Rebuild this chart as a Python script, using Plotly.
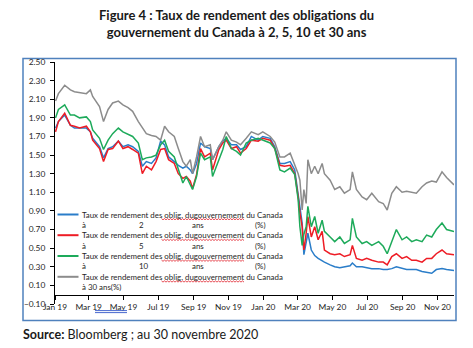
import plotly.graph_objects as go

# Government of Canada benchmark bond yields (%), Jan 2019 - Nov 2020
dates = [
    "2019-01-02", "2019-01-07", "2019-01-18", "2019-01-28", "2019-02-04", "2019-02-13", "2019-02-25", "2019-03-04", "2019-03-08", "2019-03-20",
    "2019-03-27", "2019-04-04", "2019-04-12", "2019-04-22", "2019-04-30", "2019-05-09", "2019-05-17", "2019-05-27", "2019-06-03", "2019-06-10",
    "2019-06-19", "2019-06-27", "2019-07-05", "2019-07-12", "2019-07-19", "2019-07-29", "2019-08-05", "2019-08-13", "2019-08-19", "2019-08-26",
    "2019-08-30", "2019-09-06", "2019-09-13", "2019-09-20", "2019-09-30", "2019-10-04", "2019-10-15", "2019-10-22", "2019-10-28", "2019-11-06",
    "2019-11-15", "2019-11-22", "2019-12-02", "2019-12-11", "2019-12-23", "2019-12-31", "2020-01-13", "2020-01-21", "2020-01-30", "2020-02-07",
    "2020-02-17", "2020-02-25", "2020-03-02", "2020-03-05", "2020-03-09", "2020-03-12", "2020-03-16", "2020-03-19", "2020-03-25", "2020-03-31",
    "2020-04-06", "2020-04-13", "2020-04-17", "2020-04-27", "2020-05-05", "2020-05-14", "2020-05-22", "2020-06-01", "2020-06-05", "2020-06-12",
    "2020-06-22", "2020-06-30", "2020-07-09", "2020-07-21", "2020-07-29", "2020-08-05", "2020-08-13", "2020-08-21", "2020-08-31", "2020-09-08",
    "2020-09-17", "2020-09-25", "2020-10-05", "2020-10-13", "2020-10-22", "2020-10-30", "2020-11-09", "2020-11-17", "2020-11-30",
]

yield_2y = [
    1.79, 1.86, 1.93, 1.82, 1.79, 1.79, 1.79, 1.75, 1.68, 1.59,
    1.47, 1.57, 1.59, 1.65, 1.59, 1.61, 1.59, 1.54, 1.38, 1.43,
    1.41, 1.47, 1.65, 1.61, 1.48, 1.43, 1.39, 1.36, 1.38, 1.34,
    1.30, 1.41, 1.63, 1.59, 1.57, 1.45, 1.59, 1.65, 1.68, 1.61,
    1.61, 1.56, 1.59, 1.70, 1.66, 1.70, 1.68, 1.59, 1.41, 1.41,
    1.43, 1.34, 1.09, 0.92, 0.77, 0.43, 0.57, 0.66, 0.48, 0.42,
    0.39, 0.37, 0.35, 0.32, 0.30, 0.29, 0.30, 0.31, 0.34, 0.30,
    0.30, 0.29, 0.28, 0.28, 0.27, 0.27, 0.28, 0.30, 0.28, 0.27,
    0.27, 0.27, 0.25, 0.24, 0.23, 0.27, 0.28, 0.27, 0.26,
]
yield_5y = [
    1.75, 1.86, 1.95, 1.82, 1.81, 1.79, 1.81, 1.75, 1.66, 1.57,
    1.43, 1.56, 1.57, 1.65, 1.57, 1.59, 1.56, 1.52, 1.30, 1.38,
    1.34, 1.43, 1.56, 1.57, 1.45, 1.41, 1.30, 1.25, 1.27, 1.22,
    1.14, 1.29, 1.57, 1.48, 1.52, 1.34, 1.56, 1.63, 1.66, 1.57,
    1.59, 1.52, 1.57, 1.66, 1.65, 1.68, 1.66, 1.57, 1.39, 1.38,
    1.39, 1.30, 1.05, 0.88, 0.73, 0.48, 0.66, 0.84, 0.62, 0.73,
    0.59, 0.68, 0.48, 0.44, 0.43, 0.44, 0.41, 0.43, 0.53, 0.39,
    0.37, 0.39, 0.37, 0.35, 0.35, 0.32, 0.41, 0.44, 0.39, 0.41,
    0.37, 0.37, 0.35, 0.39, 0.39, 0.44, 0.48, 0.44, 0.43,
]
yield_10y = [
    1.90, 1.99, 2.04, 1.93, 1.93, 1.90, 1.91, 1.86, 1.77, 1.68,
    1.56, 1.66, 1.73, 1.79, 1.75, 1.72, 1.70, 1.63, 1.45, 1.47,
    1.48, 1.50, 1.61, 1.66, 1.54, 1.48, 1.34, 1.20, 1.27, 1.18,
    1.13, 1.27, 1.52, 1.45, 1.48, 1.27, 1.45, 1.56, 1.70, 1.57,
    1.54, 1.50, 1.63, 1.66, 1.68, 1.66, 1.63, 1.57, 1.34, 1.32,
    1.36, 1.29, 1.02, 0.73, 0.53, 0.65, 0.73, 0.95, 0.73, 0.84,
    0.66, 0.80, 0.68, 0.62, 0.57, 0.62, 0.55, 0.59, 0.82, 0.62,
    0.55, 0.57, 0.53, 0.57, 0.52, 0.44, 0.57, 0.70, 0.59, 0.62,
    0.57, 0.59, 0.57, 0.64, 0.62, 0.70, 0.77, 0.70, 0.68,
]
yield_30y = [
    2.08, 2.16, 2.25, 2.20, 2.18, 2.17, 2.16, 2.20, 2.13, 2.02,
    1.86, 1.99, 2.06, 2.08, 2.04, 2.01, 1.97, 1.86, 1.80, 1.73,
    1.71, 1.70, 1.66, 1.81, 1.75, 1.70, 1.57, 1.43, 1.38, 1.45,
    1.30, 1.48, 1.70, 1.59, 1.61, 1.45, 1.59, 1.66, 1.75, 1.66,
    1.64, 1.61, 1.68, 1.75, 1.72, 1.75, 1.70, 1.64, 1.48, 1.48,
    1.52, 1.40, 1.30, 1.23, 0.91, 1.13, 0.98, 1.45, 1.30, 1.38,
    1.30, 1.41, 1.30, 1.23, 1.13, 1.16, 1.09, 1.13, 1.32, 1.13,
    1.05, 1.02, 1.09, 1.00, 0.98, 0.91, 1.09, 1.16, 1.10, 1.11,
    1.10, 1.09, 1.16, 1.20, 1.22, 1.21, 1.32, 1.26, 1.18,
]

series = [
    ("2", yield_2y, "#2A7DC9"),
    ("5", yield_5y, "#EE1C25"),
    ("10", yield_10y, "#1DAA5A"),
    ("30", yield_30y, "#8C8C8C"),
]

y_min, y_max = -0.10, 2.50
x_start, x_end = "2019-01-01", "2020-11-30"

W, H = 473, 348
ML, MR, MT, MB = 55, 19, 62, 44
PW, PH = W - ML - MR, H - MT - MB


def px(x):
    return (x - ML) / PW


def py(y):
    return (H - MB - y) / PH


FONT = "Lato"
LEG_FONT = "Liberation Sans Narrow, Lato"
LEG_SIZE = 7.9
TXT = "#262626"

fig = go.Figure()
for term, vals, color in series:
    fig.add_trace(go.Scatter(
        x=dates, y=vals, mode="lines", name=term,
        line=dict(color=color, width=1.5), showlegend=False,
    ))

shapes = []
annotations = []

# outer frame
shapes.append(dict(type="rect", xref="paper", yref="paper",
                   x0=px(23), x1=px(456), y0=py(320.5), y1=py(58.5),
                   line=dict(color="#4F81BD", width=1.5), layer="below"))

# legend drawn inside the plot, lower left
row_y = [214.5, 235.2, 256.0, 276.8]
for i, (term, vals, color) in enumerate(series):
    y1 = row_y[i]
    shapes.append(dict(type="line", xref="paper", yref="paper",
                       x0=px(57.5), x1=px(78.5), y0=py(y1), y1=py(y1),
                       line=dict(color=color, width=2)))
    annotations.append(dict(xref="paper", yref="paper", x=px(80), y=py(y1),
                            text="Taux de rendement des oblig. dugouvernement du Canada",
                            showarrow=False, xanchor="left", yanchor="middle",
                            font=dict(family=LEG_FONT, size=LEG_SIZE, color=TXT)))
    # spelling squiggle beneath "oblig. dugouvernement"
    yy = y1 + 4.6
    pts = []
    xx = 161.5
    k = 0
    while xx <= 244:
        pts.append(f"{px(xx)},{py(yy + (0.7 if k % 2 else -0.5))}")
        xx += 1.5
        k += 1
    shapes.append(dict(type="path", xref="paper", yref="paper",
                       path="M" + " L".join(pts),
                       line=dict(color="#E0202A", width=0.8)))
    y2 = y1 + 10.3
    if term == "30":
        parts = [("à 30 ans(%)", 80)]
    else:
        parts = [("à", 80), (term, 136.5), ("ans", 190), ("(%)", 252.5)]
    for txt, x0 in parts:
        annotations.append(dict(xref="paper", yref="paper", x=px(x0), y=py(y2),
                                text=txt, showarrow=False, xanchor="left",
                                yanchor="middle", font=dict(family=LEG_FONT, size=LEG_SIZE, color=TXT)))

# grammar underline beneath "19 May"
for yy in (310.6, 312.6):
    shapes.append(dict(type="line", xref="paper", yref="paper",
                       x0=px(95), x1=px(127), y0=py(yy), y1=py(yy),
                       line=dict(color="#3458C8", width=0.9)))

# title
annotations.append(dict(xref="paper", yref="paper", x=px(236), y=py(5),
                        text="<b>Figure 4 : Taux de rendement des obligations du<br>"
                             "gouvernement du Canada à 2, 5, 10 et 30 ans</b>",
                        showarrow=False, xanchor="center", yanchor="top",
                        font=dict(family=FONT, size=13, color="#1a1a1a")))
# source line
annotations.append(dict(xref="paper", yref="paper", x=px(21), y=py(334),
                        text="<b>Source:</b> Bloomberg ; au 30 novembre 2020",
                        showarrow=False, xanchor="left", yanchor="middle",
                        font=dict(family=FONT, size=12.5, color="#1a1a1a")))

fig.update_layout(
    width=W, height=H,
    margin=dict(l=ML, r=MR, t=MT, b=MB, pad=0),
    paper_bgcolor="white", plot_bgcolor="white",
    shapes=shapes, annotations=annotations,
    xaxis=dict(
        type="date", range=[x_start, x_end],
        tick0="2019-01-01", dtick="M2", tickformat="%b %y",
        anchor="free", position=(0 - y_min) / (y_max - y_min),
        showline=True, linecolor="#000000", linewidth=1,
        ticks="outside", ticklen=4, tickcolor="#000000", tickwidth=1,
        showgrid=False, zeroline=False,
        tickfont=dict(family=FONT, size=8.4, color=TXT),
    ),
    yaxis=dict(
        range=[y_min, y_max], tick0=-0.10, dtick=0.20, tickformat=".2f",
        showline=True, linecolor="#000000", linewidth=1,
        ticks="outside", ticklen=4, tickcolor="#000000", tickwidth=1,
        ticklabelstandoff=3,
        showgrid=False, zeroline=False,
        tickfont=dict(family=FONT, size=8.4, color=TXT),
    ),
    font=dict(family=FONT),
)

fig.write_html("out.html")
